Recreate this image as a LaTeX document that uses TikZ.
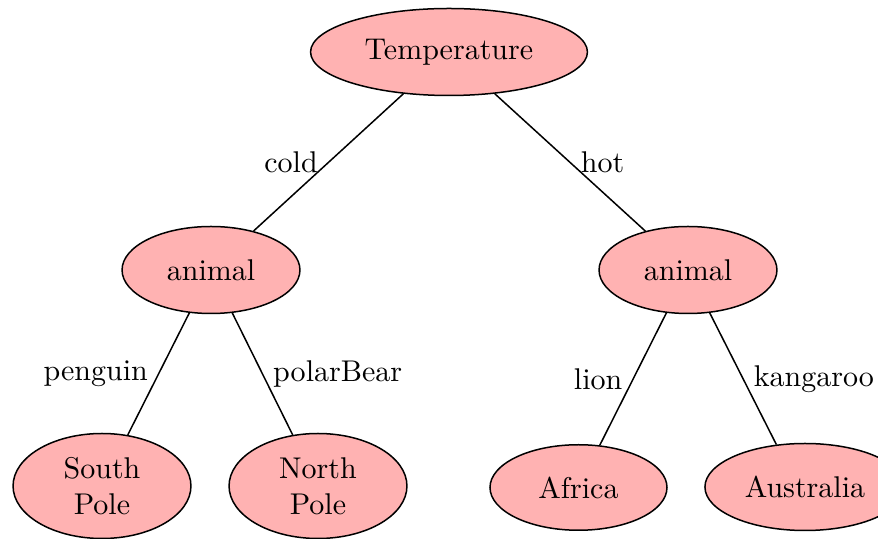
\documentclass[tikz,border=0pt]{standalone}
\usetikzlibrary{shapes.geometric}
\begin{document}
\begin{tikzpicture}[x=0.33333pt, y=-0.33333pt,
  treenode/.style={ellipse, draw=black, fill=red!30, line width=0.5pt,
    inner sep=0pt, align=center},
  edge/.style={line width=0.5pt}]
\useasboundingbox (0,0) rectangle (878,539);

% nodes of the decision tree
\node[treenode, minimum width=92.3pt, minimum height=29pt] (temp) at (449,52) {Temperature};
\node[treenode, minimum width=59.3pt, minimum height=29pt] (cold) at (211,270) {animal};
\node[treenode, minimum width=59.3pt, minimum height=29pt] (hot) at (688,270) {animal};
\node[treenode, minimum width=59.3pt, minimum height=35pt] (south) at (102,486) {South\\Pole};
\node[treenode, minimum width=59.3pt, minimum height=35pt] (north) at (318,486) {North\\Pole};
\node[treenode, minimum width=59pt, minimum height=28.5pt] (africa) at (578.5,487.5) {Africa};
\node[treenode, minimum width=66.7pt, minimum height=29pt] (aus) at (805,487) {Australia};

% branches with their labels
\draw[edge] (temp) -- (cold) node[midway, left] {cold};
\draw[edge] (temp) -- (hot) node[midway, right] {hot};
\draw[edge] (cold) -- (south) node[midway, left] {penguin};
\draw[edge] (cold) -- (north) node[midway, right] {polarBear};
\draw[edge] (hot) -- (africa) node[midway, left] {lion};
\draw[edge] (hot) -- (aus.124) node[midway, right] {kangaroo};
\end{tikzpicture}
\end{document}
